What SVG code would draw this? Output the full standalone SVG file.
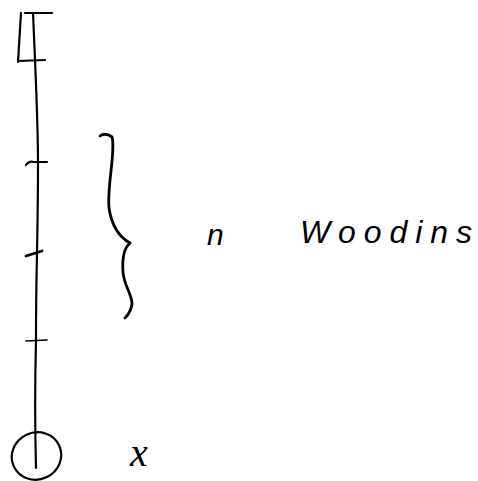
<svg xmlns="http://www.w3.org/2000/svg" width="478" height="481" viewBox="0 0 478 481">
  <style>
    .ink { fill: none; stroke: #000; stroke-linecap: round; stroke-linejoin: round; }
    .thin { stroke-width: 1.6; }
    .mid { stroke-width: 2.2; }
    .thick { stroke-width: 2.8; }
    .hand { font-family: "Liberation Sans", "DejaVu Sans", sans-serif; font-style: italic; fill: #000; }
    .serif { font-family: "Liberation Serif", "DejaVu Serif", serif; font-style: italic; fill: #000; }
  </style>
  <rect width="478" height="481" fill="#fff"/>

  <g id="connectors">
    <path id="main-line" class="ink mid" d="M33,13 C35,60 38,120 38,162 C38,210 37,250 37,253 C36,300 36,330 36,340 C35,380 35,430 36,468"/>
    <path id="tick-1" class="ink mid" d="M26,165 C28,162 31,161 34,162 L47,162"/>
    <path id="tick-2" class="ink thick" d="M26,256 L42,251"/>
    <path id="tick-3" class="ink thin" d="M26,341 L47,340"/>
  </g>

  <g id="top-box">
    <path class="ink mid" d="M21,13 L18,62"/>
    <path class="ink mid" d="M25,13 L52,13"/>
    <path class="ink mid" d="M18,61 L45,60"/>
  </g>

  <g id="bottom-circle">
    <ellipse class="ink mid" cx="36.5" cy="456" rx="25" ry="23.5" transform="rotate(-25 36.5 456)"/>
  </g>

  <g id="brace">
    <path class="ink thick" d="M100,136 Q105,132 112,137 C116,150 107,185 109,208 C112,228 121,238 130,243"/>
    <path class="ink thick" d="M130,243 C124,248 122,258 123,272 C124,286 132,294 132,304 C131,311 128,315 125,318"/>
  </g>

  <g id="labels">
    <text id="label-n" class="hand" x="207" y="245" font-size="30">n</text>
    <text id="label-woodins" class="hand" x="300" y="243" font-size="32" textLength="172" lengthAdjust="spacing">Woodins</text>
    <text id="label-x" class="serif" x="130" y="466" font-size="40">x</text>
  </g>
</svg>
